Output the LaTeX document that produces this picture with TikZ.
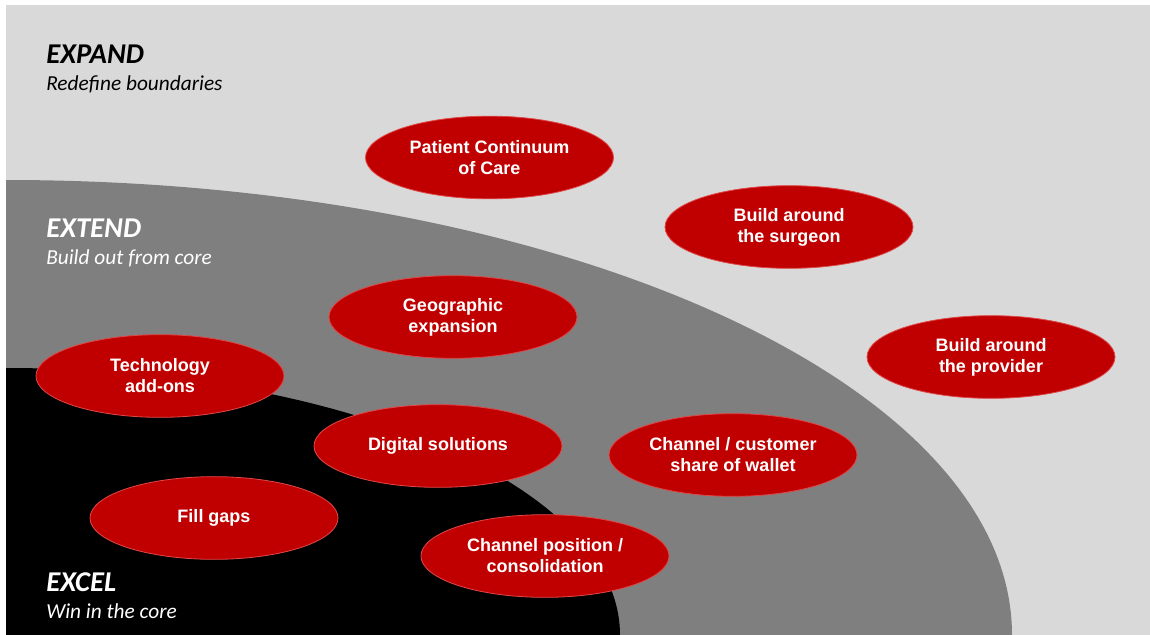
\documentclass[tikz,border=0pt]{standalone}
\usepackage{fontspec}
\setmainfont{Liberation Sans}
\newfontfamily\headfont{Carlito}
\usetikzlibrary{shapes.geometric}
\definecolor{bglight}{HTML}{D9D9D9}
\definecolor{midgray}{HTML}{7F7F7F}
\definecolor{ovalred}{HTML}{C00000}
\definecolor{ovaledge}{HTML}{E04848}
\tikzset{
  oval/.style={ellipse, fill=ovalred, draw=ovaledge, line width=0.6pt,
    minimum width=186pt, minimum height=62pt, inner sep=0pt, align=center,
    text=white, font=\fontsize{13.5}{15.8}\selectfont\bfseries},
  headtitle/.style={anchor=base west, inner sep=0pt,
    font=\headfont\fontsize{21.5}{24}\selectfont\bfseries\itshape},
  headsub/.style={anchor=base west, inner sep=0pt,
    font=\headfont\fontsize{16}{19}\selectfont\itshape}
}
\begin{document}
\begin{tikzpicture}[x=0.75pt,y=-0.75pt]
\useasboundingbox (0,0) rectangle (1150,635);
\fill[white] (0,0) rectangle (1150,635);
\fill[bglight] (6,5) rectangle (1150,635);
\begin{scope}
  \clip (6,5) rectangle (1150,635);
  \fill[midgray] (6,635) ellipse [x radius=754.5pt, y radius=341.25pt];
  \fill[black] (6,635) ellipse [x radius=460.5pt, y radius=200.25pt];
\end{scope}
% headings
\node[headtitle] (expand) at (46,64) {EXPAND};
\node[headsub] (expandsub) at (46,91) {Redefine boundaries};
\node[headtitle, text=white] (extend) at (46,237) {EXTEND};
\node[headsub, text=white] (extendsub) at (46,264) {Build out from core};
\node[headtitle, text=white] (excel) at (46,591) {EXCEL};
\node[headsub, text=white] (excelsub) at (46,618) {Win in the core};
% ovals
\node[oval] (pcc) at (489.5,157.5) {Patient Continuum\\of Care};
\node[oval] (surg) at (789,227) {Build around\\the surgeon};
\node[oval] (geo) at (453,317) {Geographic\\expansion};
\node[oval] (prov) at (991,357) {Build around\\the provider};
\node[oval] (tech) at (160,376) {Technology\\add-ons};
\node[oval] (dig) at (438,446) {Digital solutions};
\node[oval] (chan) at (733,455) {Channel / customer\\share of wallet};
\node[oval] (fill) at (214,518) {Fill gaps};
\node[oval] (cpos) at (545,556) {Channel position /\\consolidation};
\end{tikzpicture}
\end{document}
